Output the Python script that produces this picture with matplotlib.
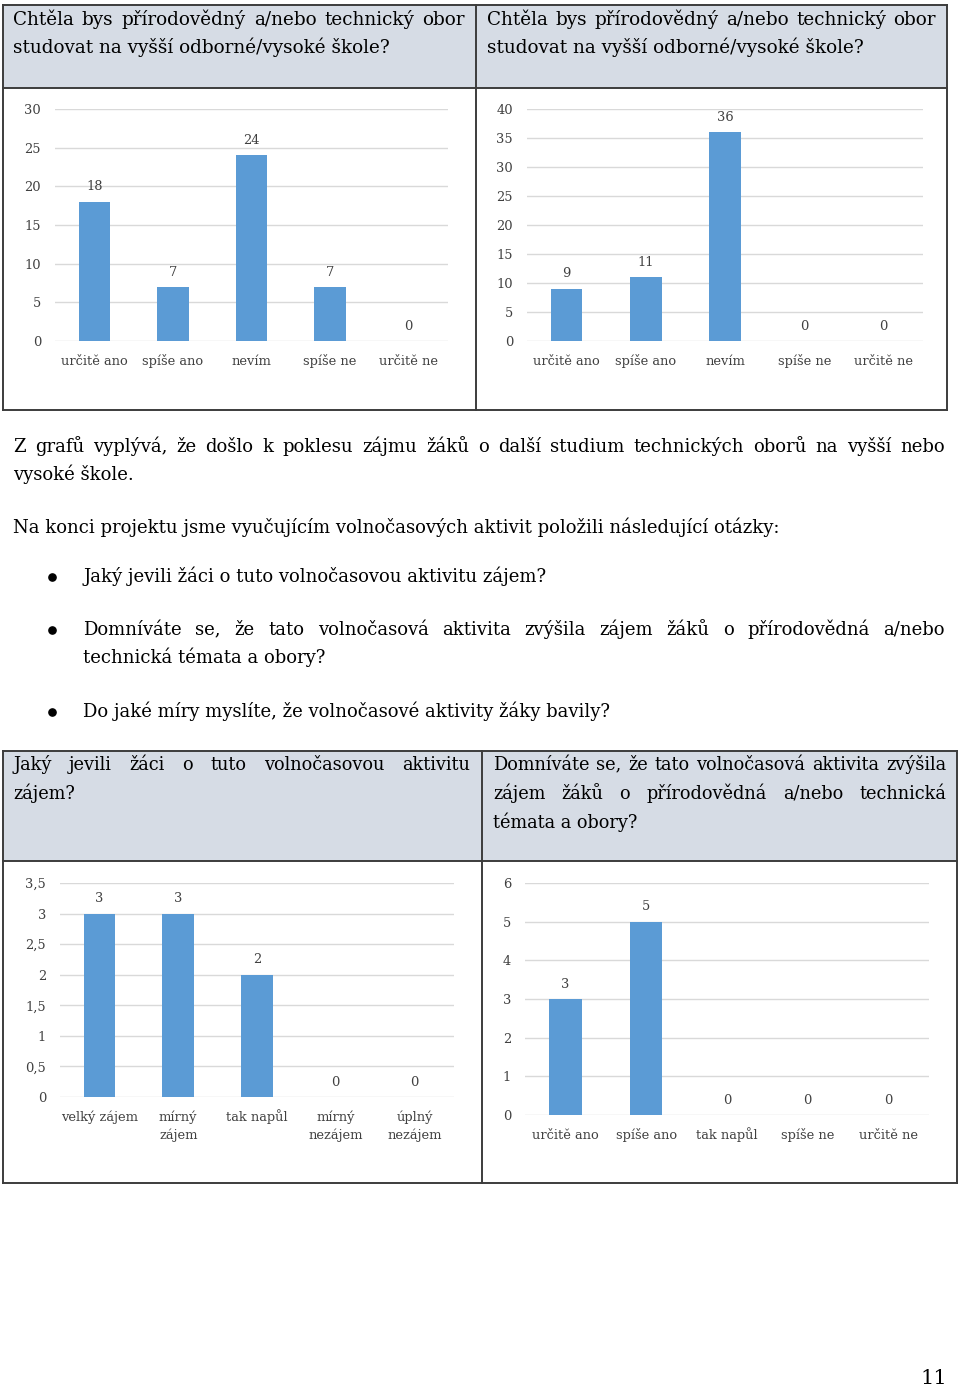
import matplotlib
matplotlib.use("Agg")
import matplotlib.pyplot as plt
from matplotlib.patches import Rectangle

# ---------------- data ----------------
cats_q1 = ["určitě ano", "spíše ano", "nevím", "spíše ne", "určitě ne"]
vals_q1_left = [18, 7, 24, 7, 0]
vals_q1_right = [9, 11, 36, 0, 0]
ticks_q1_left = [0, 5, 10, 15, 20, 25, 30]
ticks_q1_right = [0, 5, 10, 15, 20, 25, 30, 35, 40]

cats_q2 = ["velký zájem", "mírný\nzájem", "tak napůl", "mírný\nnezájem", "úplný\nnezájem"]
vals_q2 = [3, 3, 2, 0, 0]
ticks_q2 = [0, 0.5, 1, 1.5, 2, 2.5, 3, 3.5]
ticklabels_q2 = ["0", "0,5", "1", "1,5", "2", "2,5", "3", "3,5"]

cats_q3 = ["určitě ano", "spíše ano", "tak napůl", "spíše ne", "určitě ne"]
vals_q3 = [3, 5, 0, 0, 0]
ticks_q3 = [0, 1, 2, 3, 4, 5, 6]

header_q1 = ["Chtěla bys přírodovědný a/nebo technický obor",
             "studovat na vyšší odborné/vysoké škole?"]
header_q2 = ["Jaký jevili žáci o tuto volnočasovou aktivitu", "zájem?"]
header_q3 = ["Domníváte se, že tato volnočasová aktivita zvýšila",
             "zájem žáků o přírodovědná a/nebo technická",
             "témata a obory?"]
para1 = ["Z grafů vyplývá, že došlo k poklesu zájmu žáků o další studium technických oborů na vyšší nebo",
         "vysoké škole."]
para2 = "Na konci projektu jsme vyučujícím volnočasových aktivit položili následující otázky:"
bullets = [["Jaký jevili žáci o tuto volnočasovou aktivitu zájem?"],
           ["Domníváte se, že tato volnočasová aktivita zvýšila zájem žáků o přírodovědná a/nebo",
            "technická témata a obory?"],
           ["Do jaké míry myslíte, že volnočasové aktivity žáky bavily?"]]
page_no = "11"

# ---------------- style ----------------
FONT = "DejaVu Serif"
plt.rcParams["font.family"] = [FONT, "Liberation Serif"]
BAR = "#5B9BD5"
GRID = "#D9D9D9"
TXT = "#404040"
BORDER = "#3C3C3C"
HEAD = "#D6DCE5"
BODY = 12.95
HSIZE = 13.2
T2SIZE = 12.75
LSIZE = 9.4

W, H = 960, 1388
fig = plt.figure(figsize=(W / 100, H / 100), dpi=100)
bg = fig.add_axes([0, 0, 1, 1])
bg.set_xlim(0, W)
bg.set_ylim(H, 0)
bg.axis("off")
renderer = fig.canvas.get_renderer()


def put_line(text, x0, y, x1=None, size=BODY):
    # y is the visual centre of the line; convert to a baseline
    yb = y + 0.27 * size * 100 / 72
    if x1 is None:
        bg.text(x0, yb, text, ha="left", va="baseline", fontsize=size, color="black")
        return
    words = text.split(" ")
    ts = [bg.text(0, yb, w_, ha="left", va="baseline", fontsize=size, color="black") for w_ in words]
    widths = [t.get_window_extent(renderer).width for t in ts]
    gap = (x1 - x0 - sum(widths)) / (len(words) - 1)
    x = x0
    for t, wd in zip(ts, widths):
        t.set_x(x)
        x += wd + gap


def table(x0, x1, y0, yh, y1, xm):
    bg.add_patch(Rectangle((x0, y0), x1 - x0, yh - y0, facecolor=HEAD, edgecolor="none", zorder=0))
    kw = dict(color=BORDER, lw=1.4, zorder=1)
    bg.plot([x0, x1], [y0, y0], **kw)
    bg.plot([x0, x1], [y1, y1], **kw)
    bg.plot([x0, x1], [yh, yh], **kw)
    bg.plot([x0, x0], [y0, y1], **kw)
    bg.plot([x1, x1], [y0, y1], **kw)
    bg.plot([xm, xm], [y0, y1], **kw)


def chart(x0, x1, yzero, ytop, cats, vals, ticks, ticklabels=None):
    ax = fig.add_axes([x0 / W, 1 - yzero / H, (x1 - x0) / W, (yzero - ytop) / H])
    ax.set_facecolor("none")
    n = len(cats)
    ax.bar(range(n), vals, width=0.4, color=BAR, zorder=3)
    ax.set_xlim(-0.5, n - 0.5)
    ax.set_ylim(0, ticks[-1])
    ax.set_yticks(ticks)
    ax.set_yticklabels(ticklabels if ticklabels else [str(t) for t in ticks])
    ax.set_xticks(range(n))
    ax.set_xticklabels([""] * n)
    for s in ax.spines.values():
        s.set_visible(False)
    ax.yaxis.grid(True, color=GRID, lw=1.0, zorder=0)
    ax.tick_params(axis="y", length=0, pad=10, labelsize=LSIZE, labelcolor=TXT)
    ax.tick_params(axis="x", length=0)
    # category labels, each line on its own baseline
    for i, c in enumerate(cats):
        for j, part in enumerate(c.split("\n")):
            ax.annotate(part, xy=(i, 0), xycoords=("data", "axes fraction"),
                        xytext=(0, -(17 + 13 * j)), textcoords="offset points",
                        ha="center", va="baseline", fontsize=LSIZE, color=TXT,
                        annotation_clip=False)
    for i, v in enumerate(vals):
        ax.annotate(str(v), (i, v), xytext=(0, 6), textcoords="offset points",
                    ha="center", va="bottom", fontsize=LSIZE, color=TXT)
    return ax


# ---------------- table 1 ----------------
table(3, 947, 5, 88, 410, 476)
put_line(header_q1[0], 13, 20, 465, size=HSIZE)
put_line(header_q1[1], 13, 48, size=HSIZE)
put_line(header_q1[0], 487, 20, 936, size=HSIZE)
put_line(header_q1[1], 487, 48, size=HSIZE)
chart(55, 448, 341, 109, cats_q1, vals_q1_left, ticks_q1_left)
chart(527, 923, 341, 109, cats_q1, vals_q1_right, ticks_q1_right)

# ---------------- text ----------------
put_line(para1[0], 13, 447, 945)
put_line(para1[1], 13, 475)
put_line(para2, 13, 528)
by = [[577], [630, 658], [712]]
for lines, ys in zip(bullets, by):
    bg.plot([52], [ys[0]], marker="o", markersize=5.2, color="black", linestyle="none")
    for k, (ln, yy) in enumerate(zip(lines, ys)):
        if len(lines) > 1 and k < len(lines) - 1:
            put_line(ln, 83, yy, 945)
        else:
            put_line(ln, 83, yy)

# ---------------- table 2 ----------------
table(3, 957, 751, 861, 1183, 482)
put_line(header_q2[0], 13, 765, 470, size=T2SIZE)
put_line(header_q2[1], 13, 794, size=T2SIZE)
put_line(header_q3[0], 493, 765, 946, size=T2SIZE)
put_line(header_q3[1], 493, 794, 946, size=T2SIZE)
put_line(header_q3[2], 493, 823, size=T2SIZE)
chart(60, 454, 1097, 883, cats_q2, vals_q2, ticks_q2, ticklabels_q2)
chart(525, 929, 1115, 883, cats_q3, vals_q3, ticks_q3)

bg.text(934, 1378, page_no, ha="center", va="center", fontsize=15, color="black")

fig.savefig("out.png", dpi=100)
